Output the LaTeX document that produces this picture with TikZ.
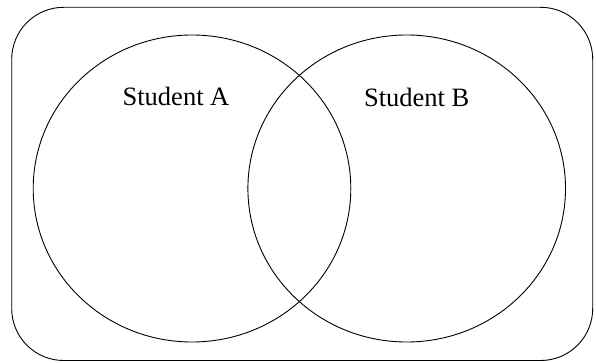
\documentclass[tikz,border=0pt]{standalone}
\usepackage{fontspec}
\setmainfont{Liberation Serif}

\begin{document}
\begin{tikzpicture}[x=1pt,y=1pt,line width=0.9pt,
                    label/.style={font=\fontsize{26.5}{30}\selectfont,anchor=base,inner sep=0pt}]
                    \useasboundingbox (0,0) rectangle (596,362);
                    \draw[rounded corners=52pt] (11.7,1.5) rectangle (592.7,354.7);
                    \draw (192,173.5) ellipse [x radius=158.8, y radius=153.5];
                    \draw (406.7,173.5) ellipse [x radius=158.8, y radius=153.5];
                    \node[label] (studA) at (176,256) {Student A};
                    \node[label] (studB) at (416.7,255) {Student B};
                \end{tikzpicture}
\end{document}
